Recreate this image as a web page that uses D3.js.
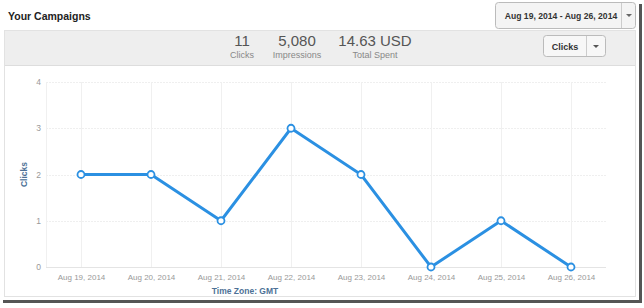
<!DOCTYPE html>
<html>
<head>
<meta charset="utf-8">
<script src="https://cdn.jsdelivr.net/npm/d3@7"></script>
<style>
  body { margin: 0; background: #fff; font-family: "Liberation Sans", Arial, sans-serif; }
</style>
</head>
<body>
<div id="vis"></div>
<script>
const FRAME_WIDTH = 644;
const FRAME_HEIGHT = 308;
const MARGINS = {left: 46, right: 38, top: 82, bottom: 41};

// data
const days = ["Aug 19, 2014", "Aug 20, 2014", "Aug 21, 2014", "Aug 22, 2014",
              "Aug 23, 2014", "Aug 24, 2014", "Aug 25, 2014", "Aug 26, 2014"];
const clicks = [2, 2, 1, 3, 2, 0, 1, 0];
const yTicks = [0, 1, 2, 3, 4];
const statValues = ["11", "5,080", "14.63 USD"];
const statLabels = ["Clicks", "Impressions", "Total Spent"];

const VIS_WIDTH = FRAME_WIDTH - MARGINS.left - MARGINS.right;
const VIS_HEIGHT = FRAME_HEIGHT - MARGINS.top - MARGINS.bottom;

const svg = d3.select("#vis")
  .append("svg")
    .attr("width", FRAME_WIDTH)
    .attr("height", FRAME_HEIGHT);

// screenshot shadow frame
svg.append("rect").attr("x", 639).attr("y", 4).attr("width", 3).attr("height", 299).attr("fill", "#555");
svg.append("rect").attr("x", 3).attr("y", 300).attr("width", 639).attr("height", 3).attr("fill", "#555");

// title
svg.append("text")
  .attr("x", 8).attr("y", 20)
  .attr("font-size", "10.5px").attr("font-weight", "bold").attr("fill", "#222")
  .text("Your Campaigns");

// date range button
svg.append("rect")
  .attr("x", 495.5).attr("y", 2.5).attr("width", 140).attr("height", 26).attr("rx", 3)
  .attr("fill", "#f4f4f4").attr("stroke", "#bbb");
svg.append("line")
  .attr("x1", 621.5).attr("x2", 621.5).attr("y1", 3).attr("y2", 28).attr("stroke", "#ccc");
svg.append("text")
  .attr("x", 561).attr("y", 19).attr("text-anchor", "middle")
  .attr("font-size", "8.6px").attr("font-weight", "bold").attr("fill", "#333")
  .text("Aug 19, 2014 - Aug 26, 2014");
svg.append("path").attr("d", "M626,14 L632,14 L629,17 Z").attr("fill", "#666");

// panel
svg.append("rect")
  .attr("x", 4.5).attr("y", 30.5).attr("width", 631).attr("height", 266)
  .attr("fill", "#fff").attr("stroke", "#e2e2e2");
svg.append("rect")
  .attr("x", 5).attr("y", 31).attr("width", 630).attr("height", 34)
  .attr("fill", "#eeeeee");
svg.append("line")
  .attr("x1", 5).attr("x2", 635).attr("y1", 65.5).attr("y2", 65.5).attr("stroke", "#ddd");

// stats
const statX = [242, 297, 375];
svg.selectAll(".statv").data(statValues).enter().append("text")
  .attr("x", (d, i) => statX[i]).attr("y", 46).attr("text-anchor", "middle")
  .attr("font-size", "15px").attr("fill", "#555").text(d => d);
svg.selectAll(".statl").data(statLabels).enter().append("text")
  .attr("x", (d, i) => statX[i]).attr("y", 58).attr("text-anchor", "middle")
  .attr("font-size", "9px").attr("fill", "#888").text(d => d);

// clicks dropdown button
svg.append("rect")
  .attr("x", 543.5).attr("y", 35.5).attr("width", 62).attr("height", 21).attr("rx", 3)
  .attr("fill", "#f7f7f7").attr("stroke", "#bbb");
svg.append("line")
  .attr("x1", 586.5).attr("x2", 586.5).attr("y1", 36).attr("y2", 56).attr("stroke", "#ccc");
svg.append("text")
  .attr("x", 565).attr("y", 49.5).attr("text-anchor", "middle")
  .attr("font-size", "9px").attr("font-weight", "bold").attr("fill", "#333")
  .text("Clicks");
svg.append("path").attr("d", "M593,45 L599,45 L596,48 Z").attr("fill", "#555");

// scales
const X_SCALE = d3.scalePoint()
  .domain(days)
  .range([0, VIS_WIDTH])
  .padding(0.5);
const Y_SCALE = d3.scaleLinear()
  .domain([0, 4])
  .range([VIS_HEIGHT, 0]);

const g = svg.append("g")
  .attr("transform", "translate(" + MARGINS.left + "," + MARGINS.top + ")");

// gridlines
g.selectAll(".hgrid").data(yTicks).enter().append("line")
  .attr("x1", 0).attr("x2", VIS_WIDTH)
  .attr("y1", d => Math.round(Y_SCALE(d)) + 0.5).attr("y2", d => Math.round(Y_SCALE(d)) + 0.5)
  .attr("stroke", d => d === 0 ? "#e4e4e4" : "#efefef")
  .attr("stroke-dasharray", d => d === 0 ? null : "2,1");
g.selectAll(".vgrid").data(days).enter().append("line")
  .attr("x1", d => Math.round(X_SCALE(d)) + 0.5).attr("x2", d => Math.round(X_SCALE(d)) + 0.5)
  .attr("y1", 0).attr("y2", VIS_HEIGHT)
  .attr("stroke", "#f0f0f0");
g.append("line")
  .attr("x1", 0.5).attr("x2", 0.5).attr("y1", 0).attr("y2", VIS_HEIGHT)
  .attr("stroke", "#f0f0f0");

// axes
const yAxis = g.append("g")
  .call(d3.axisLeft(Y_SCALE).tickValues(yTicks).tickFormat(d3.format("d")).tickSize(0).tickPadding(5));
yAxis.select(".domain").remove();
yAxis.selectAll("text").attr("font-size", "8.5px").attr("fill", "#999").attr("font-family", "Liberation Sans, Arial");

const xAxis = g.append("g")
  .attr("transform", "translate(0," + VIS_HEIGHT + ")")
  .call(d3.axisBottom(X_SCALE).tickSize(0).tickPadding(7));
xAxis.select(".domain").remove();
xAxis.selectAll("text").attr("font-size", "8px").attr("fill", "#999").attr("font-family", "Liberation Sans, Arial");

// axis titles
svg.append("text")
  .attr("transform", "translate(27," + (MARGINS.top + Y_SCALE(2)) + ") rotate(-90)")
  .attr("text-anchor", "middle")
  .attr("font-size", "8.5px").attr("font-weight", "bold").attr("fill", "#4d7196")
  .text("Clicks");
svg.append("text")
  .attr("x", 245).attr("y", 294).attr("text-anchor", "middle")
  .attr("font-size", "8.5px").attr("font-weight", "bold").attr("fill", "#4d7196")
  .text("Time Zone: GMT");

// line
const line = d3.line()
  .x((d, i) => X_SCALE(days[i]))
  .y(d => Y_SCALE(d));
g.append("path")
  .datum(clicks)
  .attr("d", line)
  .attr("fill", "none")
  .attr("stroke", "#2b90e2")
  .attr("stroke-width", 3)
  .attr("stroke-linejoin", "miter");

g.selectAll(".pt").data(clicks).enter().append("circle")
  .attr("cx", (d, i) => X_SCALE(days[i]))
  .attr("cy", d => Y_SCALE(d))
  .attr("r", 3.5)
  .attr("fill", "#fff")
  .attr("stroke", "#2b90e2")
  .attr("stroke-width", 1.8);
</script>
</body>
</html>
